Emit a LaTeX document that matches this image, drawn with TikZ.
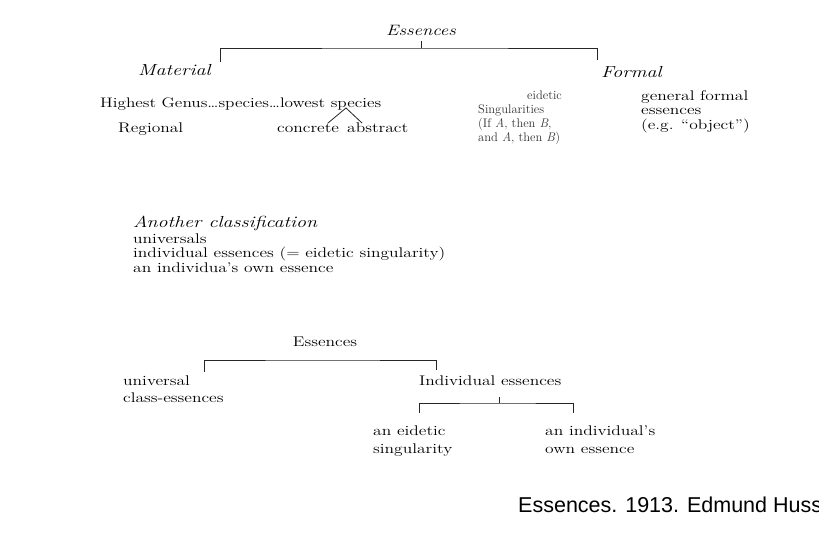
\documentclass[tikz,border=0pt]{standalone}
\usepackage{fontspec}
\setmainfont{Latin Modern Roman}[FakeStretch=1.25]
\newfontfamily\thinfont{Latin Modern Roman}
\newfontfamily\capfont{Liberation Sans}
\usetikzlibrary{positioning,calc}

\begin{document}
\begin{tikzpicture}[x=1pt,y=-1pt,
    txt/.style={inner sep=0pt, font=\fontsize{14}{14.5}\selectfont},
    thin/.style={inner sep=0pt, font=\thinfont\fontsize{12.5}{14}\selectfont, black!80},
    head/.style={inner sep=0pt, font=\fontsize{16}{18}\selectfont\itshape},
    brace/.style={line width=0.8pt, black!85}]
    \useasboundingbox[fill=white] (0,0) rectangle (819,539);

    % First scheme
    \node[head, font=\fontsize{15}{18}\selectfont\itshape] (ess) at (421,30) {Essences};
    \node[head, anchor=base west] (mat) at (138,75) {Material};
    \node[head, anchor=base west] (form) at (601,77) {Formal};
    \coordinate (essTop) at (421,41);
    \coordinate (bar) at (421,48);
    \coordinate (matEnd) at (220,62);
    \coordinate (formEnd) at (597,60);
    \draw[brace] (essTop) -- (bar);
    \draw[brace] (matEnd) |- (bar) -| (formEnd);

    \node[txt, anchor=base west, font=\fontsize{13.8}{14.5}\selectfont] (genus) at (100,107) {Highest Genus\ldots species\ldots lowest species};
    \node[txt, anchor=base west] (reg) at (118,132) {Regional};
    \node[txt, anchor=base west] (conc) at (277,132) {concrete};
    \node[txt, anchor=base west] (abst) at (347,132) {abstract};
    \coordinate (spec) at (346,108);
    \coordinate (concEnd) at (328,123);
    \coordinate (abstEnd) at (362,123);
    \draw[brace] (concEnd) -- (spec) -- (abstEnd);

    \node[thin, anchor=north west, align=left] (sing) at (478,91)
        {\hspace*{49pt}eidetic\\Singularities\\(If \textit{A}, then \textit{B},\\and \textit{A}, then \textit{B})};
    \node[txt, anchor=north west, align=left] (gen) at (641,90)
        {general formal\\essences\\(e.g. ``object'')};

    % Another classification
    \node[head, anchor=base west] (another) at (133,227) {Another classification};
    \node[txt, anchor=north west, align=left] (list) at (133,233.5)
        {universals\\individual essences (= eidetic singularity)\\an individua's own essence};

    % Second scheme
    \node[txt] (ess2) at (325,342) {Essences};
    \node[txt, anchor=north west, align=left, font=\fontsize{14}{17}\selectfont] (univ) at (123,376) {universal\\class-essences};
    \node[txt, anchor=base west] (indiv) at (419,385) {Individual essences};
    \coordinate (bar2) at (325,360);
    \coordinate (univEnd) at (204,372);
    \coordinate (indivEnd) at (436,370);
    \draw[brace] (univEnd) |- (bar2) -| (indivEnd);

    \node[txt, anchor=north west, align=left, font=\fontsize{14}{17.5}\selectfont] (eid) at (373,426) {an eidetic\\singularity};
    \node[txt, anchor=north west, align=left, font=\fontsize{14}{17.5}\selectfont] (own) at (545,426) {an individual's\\own essence};
    \coordinate (indTop) at (499,397);
    \coordinate (bar3) at (499,403);
    \coordinate (eidEnd) at (419,413);
    \coordinate (ownEnd) at (573,413);
    \draw[brace] (indTop) -- (bar3);
    \draw[brace] (eidEnd) |- (bar3) -| (ownEnd);

    % caption
    \node[inner sep=0pt, anchor=base west, font=\capfont\fontsize{21.5}{24}\selectfont] (cap) at (518,512) {Essences. 1913. Edmund Huss};
\end{tikzpicture}
\end{document}
